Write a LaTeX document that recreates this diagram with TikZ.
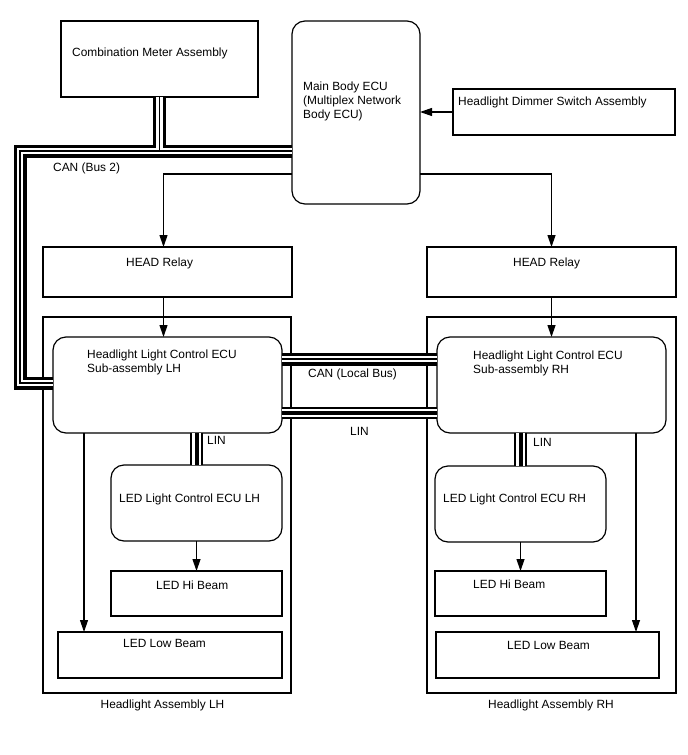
\documentclass[tikz,border=0pt]{standalone}
\usepackage{fontspec}
\setmainfont{Liberation Sans}
\usetikzlibrary{arrows.meta,calc}
\tikzset{
  box/.style 2 args={draw, line width=1.2pt, anchor=north west, inner sep=0pt, outer sep=0pt, minimum width=#1, minimum height=#2},
  rbox/.style 2 args={box={#1}{#2}, rounded corners=13pt},
  lbl/.style={anchor=west, inner sep=0pt, align=left, font=\fontsize{11.9}{14}\selectfont},
  arr/.style={-{Triangle[length=12pt, width=8pt]}, line width=1.2pt},
  canbus/.style={draw=black, line width=13pt, postaction={draw=white, line width=6.5pt}, postaction={draw=black, line width=1.2pt}},
  linbus/.style={draw=black, line width=12.5pt, postaction={draw=white, line width=8.5pt}, postaction={draw=black, line width=4pt}},
}
\begin{document}
\begin{tikzpicture}[x=1pt, y=-1pt]  % 1 unit = 1 px of the sheet, y downwards
  \useasboundingbox (0,0) rectangle (688,755);
  % headlight assemblies (outer frames)
  \node[box={248pt}{376pt}] (assyL) at (43,317) {};
  \node[box={249pt}{376pt}] (assyR) at (427,317) {};
  % top row
  \node[box={197pt}{76pt}] (meter) at (61,21) {};
  \node[rbox={128pt}{183pt}] (mainecu) at (292,21) {};
  \node[box={222pt}{46pt}] (dimmer) at (453,89) {};
  % relays
  \node[box={249pt}{50pt}] (relayL) at (43,247) {};
  \node[box={249pt}{50pt}] (relayR) at (427,247) {};
  % control units and lamps
  \node[rbox={229pt}{96pt}] (ecuL) at (53,337) {};
  \node[rbox={229pt}{96pt}] (ecuR) at (437,337) {};
  \node[rbox={171pt}{76pt}] (ledL) at (111,465) {};
  \node[rbox={171pt}{76pt}] (ledR) at (435,466) {};
  \node[box={171pt}{45pt}] (hiL) at (111,571) {};
  \node[box={171pt}{45pt}] (hiR) at (435,571) {};
  \node[box={224pt}{46pt}] (lowL) at (58,632) {};
  \node[box={223pt}{46pt}] (lowR) at (436,632) {};
  % tap points
  \coordinate (can2) at ([yshift=-38.5pt]mainecu.west);
  \coordinate (canLin) at ([yshift=2pt]ecuL.west);
  \coordinate (canloc) at ([yshift=26pt]ecuL.east);
  \coordinate (linloc) at ([yshift=-28pt]ecuL.east);
  \coordinate (headtapL) at ([yshift=30pt]mainecu.south west);
  \coordinate (headtapR) at ([yshift=30pt]mainecu.south east);
  \coordinate (relayLin) at ([xshift=-4pt]relayL.north);
  \coordinate (relayLout) at ([xshift=-4pt]relayL.south);
  \coordinate (lowLtap) at ([xshift=-83.5pt]ecuL.south);
  \coordinate (lowRtap) at ([xshift=84.5pt]ecuR.south);
  % buses
  \draw[canbus] (can2) -- ++(-272,0) |- (canLin)
                (meter.south) -- (meter.south |- can2);
  \draw[canbus] (canloc) -- (canloc -| ecuR.west);
  \draw[linbus] (linloc) -- (linloc -| ecuR.west);
  \draw[linbus] (ledL.north |- ecuL.south) -- (ledL.north);
  \draw[linbus] (ledR.north |- ecuR.south) -- (ledR.north);
  % signal lines
  \draw[arr] (dimmer.west) -- (dimmer.west -| mainecu.east);
  \draw[arr] (headtapL) -| (relayLin);
  \draw[arr] (headtapR) -| (relayR.north);
  \draw[arr] (relayLout) -- (relayLout |- ecuL.north);
  \draw[arr] (relayR.south) -- (relayR.south |- ecuR.north);
  \draw[arr] (lowLtap) -- (lowLtap |- lowL.north);
  \draw[arr] (lowRtap) -- (lowRtap |- lowR.north);
  \draw[arr] (ledL.south) -- (hiL.north);
  \draw[arr] (ledR.south) -- (hiR.north);
  % texts
  \node[lbl] (meterTxt) at (72,53) {Combination Meter Assembly};
  \node[lbl] (mainTxt) at (303,101) {Main Body ECU\\(Multiplex Network\\Body ECU)};
  \node[lbl] (dimmerTxt) at (458,102) {Headlight Dimmer Switch Assembly};
  \node[lbl] (relayLTxt) at (126,263) {HEAD Relay};
  \node[lbl] (relayRTxt) at (513,263) {HEAD Relay};
  \node[lbl] (ecuLTxt) at (87,362) {Headlight Light Control ECU\\Sub-assembly LH};
  \node[lbl] (ecuRTxt) at (473,363) {Headlight Light Control ECU\\Sub-assembly RH};
  \node[lbl] (ledLTxt) at (119,499) {LED Light Control ECU LH};
  \node[lbl] (ledRTxt) at (443,499) {LED Light Control ECU RH};
  \node[lbl] (hiLTxt) at (156,585) {LED Hi Beam};
  \node[lbl] (hiRTxt) at (473,584) {LED Hi Beam};
  \node[lbl] (lowLTxt) at (123,643) {LED Low Beam};
  \node[lbl] (lowRTxt) at (507,645) {LED Low Beam};
  \node[lbl] (can2Txt) at (53,168) {CAN (Bus 2)};
  \node[lbl] (canlocTxt) at (308,374) {CAN (Local Bus)};
  \node[lbl] (linlocTxt) at (350,431) {LIN};
  \node[lbl] (linLTxt) at (207,440) {LIN};
  \node[lbl] (linRTxt) at (533,442) {LIN};
  \node[lbl, anchor=center] (assyLTxt) at (162.5,705) {Headlight Assembly LH};
  \node[lbl, anchor=center] (assyRTxt) at (551,705) {Headlight Assembly RH};
\end{tikzpicture}
\end{document}
